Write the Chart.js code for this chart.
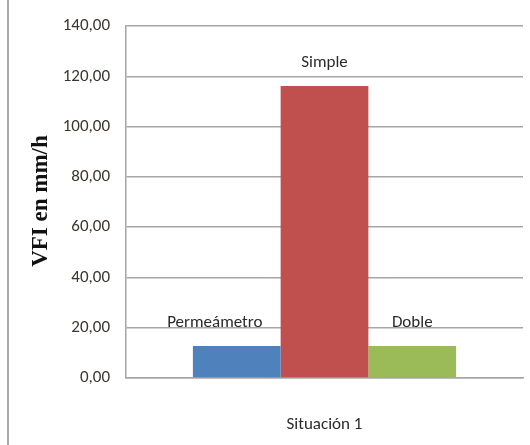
<!DOCTYPE html>
<html>
<head>
<meta charset="utf-8">
<script src="https://cdn.jsdelivr.net/npm/chart.js@4/dist/chart.umd.min.js"></script>
<style>
  html, body { margin: 0; padding: 0; background: #fff; }
  #wrap { width: 530px; height: 445px; position: relative; }
</style>
</head>
<body>
<div id="wrap"><canvas id="c" width="530" height="445"></canvas></div>
<script>
// Infiltration rate by method, one situation
const categories = ['Situación 1'];
const seriesNames = ['Permeámetro', 'Simple', 'Doble'];
const permeametro = [12.7];
const simple = [116.2];
const doble = [12.7];
const yTicks = [0, 20, 40, 60, 80, 100, 120, 140];
const yTitle = 'VFI en mm/h';

const colors = ['#4f81bd', '#c0504d', '#9bbb59'];
const labelShift = [-22, 0, 0];
const textFont = 'Carlito, Calibri, "Liberation Sans", sans-serif';

const fmt = v => v.toFixed(2).replace('.', ',');

// series name drawn above each bar
const seriesLabels = {
  id: 'seriesLabels',
  afterDatasetsDraw(chart) {
    const ctx = chart.ctx;
    ctx.save();
    ctx.font = '17px ' + textFont;
    ctx.fillStyle = '#2a2a2a';
    ctx.textAlign = 'center';
    ctx.textBaseline = 'middle';
    chart.data.datasets.forEach((ds, i) => {
      const el = chart.getDatasetMeta(i).data[0];
      ctx.fillText(ds.label, el.x + labelShift[i], el.y - 23);
    });
    ctx.restore();
  }
};

// frame line on the left and rotated axis title
const decor = {
  id: 'decor',
  beforeDraw(chart) {
    const ctx = chart.ctx;
    ctx.save();
    ctx.strokeStyle = '#8c8c8c';
    ctx.lineWidth = 1.5;
    ctx.beginPath();
    ctx.moveTo(8, 0);
    ctx.lineTo(8, 445);
    ctx.stroke();
    ctx.restore();
  },
  afterDraw(chart) {
    const ctx = chart.ctx;
    ctx.save();
    ctx.translate(41, 201);
    ctx.rotate(-Math.PI / 2);
    ctx.font = 'bold 23px "Liberation Serif", "Times New Roman", serif';
    ctx.fillStyle = '#111';
    ctx.textAlign = 'center';
    ctx.textBaseline = 'middle';
    ctx.fillText(yTitle, 0, 0);
    ctx.restore();
  }
};

const seriesValues = [permeametro, simple, doble];

new Chart(document.getElementById('c'), {
  type: 'bar',
  data: {
    labels: categories,
    datasets: seriesNames.map((n, i) => ({
      label: n,
      data: seriesValues[i],
      backgroundColor: colors[i],
      borderWidth: 0,
      barPercentage: 1,
      categoryPercentage: 0.663
    }))
  },
  options: {
    responsive: false,
    animation: false,
    devicePixelRatio: 1,
    layout: { padding: { top: 26, right: 7, left: 0, bottom: 0 } },
    plugins: { legend: { display: false }, tooltip: { enabled: false } },
    scales: {
      x: {
        grid: { display: false },
        border: { display: true, color: '#a6a6a6', width: 1.5 },
        ticks: {
          color: '#2a2a2a',
          font: { family: textFont, size: 17 },
          padding: 29
        },
        afterFit(scale) { scale.height = 67; }
      },
      y: {
        min: 0,
        max: 140,
        afterBuildTicks(scale) { scale.ticks = yTicks.map(v => ({ value: v })); },
        grid: { color: '#a6a6a6', lineWidth: 1.5, drawTicks: false },
        border: { display: true, color: '#a6a6a6', width: 1.5 },
        ticks: {
          color: '#3a3530',
          font: { family: textFont, size: 17 },
          padding: 16,
          callback: v => fmt(v)
        },
        afterFit(scale) { scale.width = 126; }
      }
    }
  },
  plugins: [seriesLabels, decor]
});
</script>
</body>
</html>
